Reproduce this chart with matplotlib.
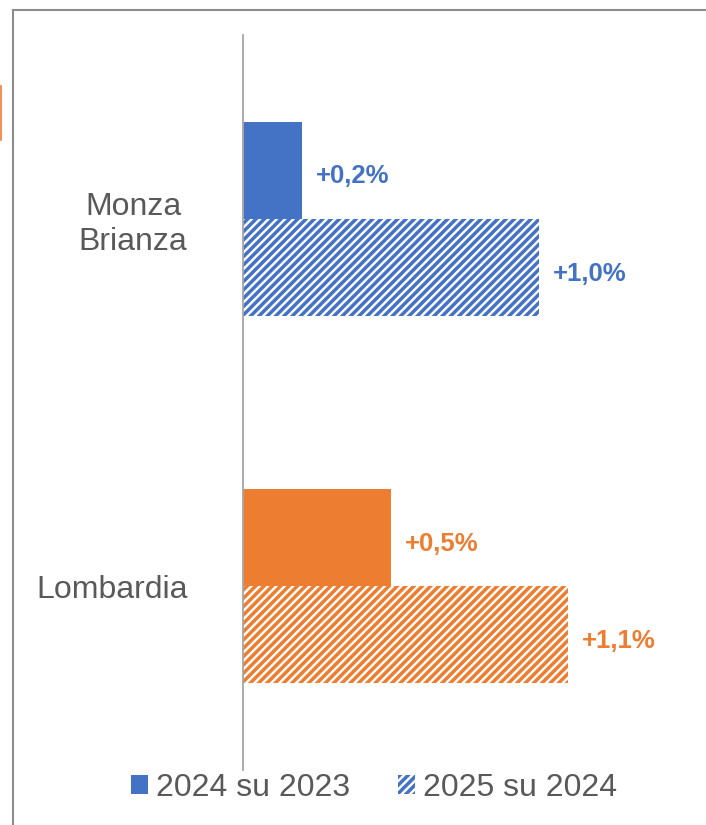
"""Variazione % Monza Brianza vs Lombardia: barre orizzontali, 2024 piene e 2025 tratteggiate."""
import matplotlib.pyplot as plt
import numpy as np
from matplotlib.lines import Line2D
from matplotlib.patches import Patch

plt.rcParams["font.family"] = ["Liberation Sans", "DejaVu Sans"]
plt.rcParams["hatch.linewidth"] = 2.5

categories = ["Monza\nBrianza", "Lombardia"]
series_names = ["2024 su 2023", "2025 su 2024"]
v2024 = [0.2, 0.5]
v2025 = [1.0, 1.1]
colors = ["#4472C4", "#ED7D31"]
TEXT = "#595959"

W, H = 706, 825
fig = plt.figure(figsize=(W / 100, H / 100), dpi=100)
ax = fig.add_axes([243 / W, 1 - 770 / H, 355 / W, 735 / H])

y = np.arange(len(categories))
bh = 0.264
for i in range(len(categories)):
    ax.barh(y[i] - bh / 2, v2024[i], height=bh, color=colors[i], linewidth=0)
    ax.barh(y[i] + bh / 2, v2025[i], height=bh, facecolor="white",
            edgecolor=colors[i], hatch="////", linewidth=0)
    for yy, v in ((y[i] - bh / 2, v2024[i]), (y[i] + bh / 2, v2025[i])):
        ax.annotate(f"+{v:.1f}%".replace(".", ","), (v, yy),
                    xytext=(10, -4.5), textcoords="offset points",
                    ha="left", va="center", fontsize=18.5, fontweight="bold",
                    color=colors[i])

ax.set_xlim(0, 1.2)
ax.set_ylim(1.5, -0.5)
ax.set_yticks(y)
ax.set_yticklabels(categories, fontsize=23, color=TEXT, multialignment="center")
ax.tick_params(axis="y", length=0, pad=40)
ax.set_xticks([])
for s in ("top", "right", "bottom"):
    ax.spines[s].set_visible(False)
ax.spines["left"].set_color("#A6A6A6")
ax.spines["left"].set_linewidth(1.3)

# legenda in basso
handles = [Patch(facecolor=colors[0], linewidth=0),
           Patch(facecolor="white", edgecolor=colors[0], hatch="////", linewidth=0)]
fig.legend(handles, series_names, loc="center", bbox_to_anchor=(0.530, 1 - 788 / H),
           ncol=2, frameon=False, fontsize=23, labelcolor=TEXT,
           handlelength=0.52, handleheight=0.53, handletextpad=0.25,
           columnspacing=1.5, borderpad=0, borderaxespad=0)

# cornice del grafico e frammento del grafico accanto
fig.add_artist(Line2D([13 / W, 13 / W], [0, 1 - 10 / H], color="#8C8C8C", lw=1.5))
fig.add_artist(Line2D([13 / W, 1], [1 - 10 / H, 1 - 10 / H], color="#8C8C8C", lw=1.5))
fig.add_artist(Line2D([0.6 / W, 0.6 / W], [1 - 86 / H, 1 - 140 / H], color="#ED7D31", lw=1.2))

fig.savefig("out.png", dpi=100)
